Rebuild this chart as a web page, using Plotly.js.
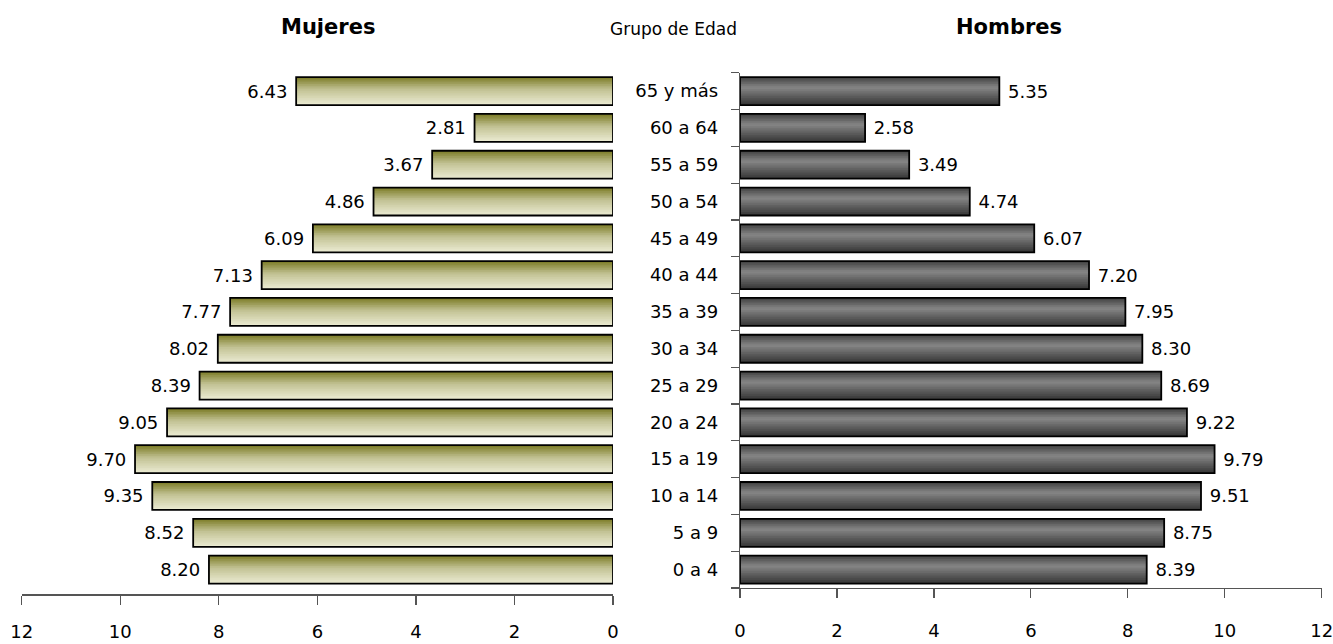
<!DOCTYPE html>
<html>
<head>
<meta charset="utf-8">
<script src="https://cdn.plot.ly/plotly-3.0.1.min.js"></script>
<style>html,body{margin:0;padding:0;background:#fff;}#chart{width:1333px;height:644px;}</style>
</head>
<body>
<div id="chart"></div>
<script>
var categories = ['0 a 4','5 a 9','10 a 14','15 a 19','20 a 24','25 a 29','30 a 34','35 a 39','40 a 44','45 a 49','50 a 54','55 a 59','60 a 64','65 y más'];
var mujeres = [8.20, 8.52, 9.35, 9.70, 9.05, 8.39, 8.02, 7.77, 7.13, 6.09, 4.86, 3.67, 2.81, 6.43];
var hombres = [8.39, 8.75, 9.51, 9.79, 9.22, 8.69, 8.30, 7.95, 7.20, 6.07, 4.74, 3.49, 2.58, 5.35];
var xTicks = [0, 2, 4, 6, 8, 10, 12];

// gradient stops (top -> bottom)
var leftStops = [[0,[122,122,36]],[0.45,[194,194,148]],[1,[236,236,212]]];
var rightStops = [[0,[64,64,64]],[0.38,[134,134,134]],[1,[52,52,52]]];

function interp(stops, t){
  for (var k=0;k<stops.length-1;k++){
    var a=stops[k], b=stops[k+1];
    if (t>=a[0] && t<=b[0]){
      var f=(t-a[0])/(b[0]-a[0]);
      var c=a[1].map(function(v,j){return Math.round(v+(b[1][j]-v)*f);});
      return 'rgb('+c.join(',')+')';
    }
  }
  var l=stops[stops.length-1][1];
  return 'rgb('+l.join(',')+')';
}

var BW = 0.76, N = 16, sw = BW/N;
var NB = '\u00a0';
var traces = [];
function addSide(vals, stops, xa, ya, side){
  // layered: each layer spans from the bar bottom up to its top edge
  for (var i=0;i<N;i++){
    var t = (i+0.5)/N;
    traces.push({
      type:'bar', orientation:'h', x: vals, y: categories, xaxis: xa, yaxis: ya,
      width: (N-i)*sw, offset: -BW/2,
      marker:{color: interp(stops,t), line:{width:0}},
      hoverinfo:'skip', showlegend:false
    });
  }
  traces.push({
    type:'bar', orientation:'h', x: vals, y: categories, xaxis: xa, yaxis: ya,
    width: BW, offset: -BW/2,
    marker:{color:'rgba(0,0,0,0)', line:{width:1.8, color:'#000'}},
    text: vals.map(function(v){return side==='left' ? v.toFixed(2)+NB : NB+v.toFixed(2);}),
    textposition:'outside', cliponaxis:false,
    textfont:{family:'DejaVu Sans', size:18, color:'#000'},
    hoverinfo:'skip', showlegend:false
  });
}
addSide(mujeres, leftStops, 'x', 'y', 'left');
addSide(hombres, rightStops, 'x2', 'y2', 'right');

var W=1333, H=644;
var yDom = [(H-588)/H, (H-72.7)/H];
var layout = {
  width:W, height:H,
  margin:{l:0, r:0, t:0, b:0},
  paper_bgcolor:'#fff', plot_bgcolor:'rgba(0,0,0,0)',
  barmode:'overlay',
  font:{family:'DejaVu Sans', size:18, color:'#000'},
  showlegend:false,
  xaxis:{domain:[21.7/W, 613/W], range:[12,0], anchor:'free', position:(H-594.3)/H,
    tickvals:xTicks, ticks:'outside', ticklen:9, tickcolor:'#555', tickwidth:1.2,
    showline:true, linecolor:'#555', linewidth:1.2, showgrid:false, zeroline:false,
    ticklabelstandoff:12, ticklabeloverflow:'allow', tickfont:{size:18}, fixedrange:true},
  yaxis:{domain:yDom, type:'category', categoryarray:categories, range:[-0.5,13.5],
    visible:false, anchor:'x', fixedrange:true},
  xaxis2:{domain:[740/W, 1321.7/W], range:[0,12], anchor:'y2',
    tickvals:xTicks, ticks:'outside', ticklen:9, tickcolor:'#555', tickwidth:1.2,
    showline:true, linecolor:'#555', linewidth:1.2, showgrid:false, zeroline:false,
    ticklabelstandoff:17, ticklabeloverflow:'allow', tickfont:{size:18}, fixedrange:true},
  yaxis2:{domain:yDom, type:'category', categoryarray:categories, range:[-0.5,13.5],
    anchor:'x2', tickson:'boundaries', ticks:'outside', ticklen:8, tickcolor:'#555', tickwidth:1.2,
    showline:true, linecolor:'#555', linewidth:1.2, showgrid:false, zeroline:false,
    ticklabelstandoff:17, tickfont:{size:18}, fixedrange:true},
  annotations:[
    {text:'<b>Mujeres</b>', x:328/W, y:1-27/H, xref:'paper', yref:'paper', xanchor:'center', yanchor:'middle', showarrow:false, font:{size:21}},
    {text:'Grupo de Edad', x:674/W, y:1-29/H, xref:'paper', yref:'paper', xanchor:'center', yanchor:'middle', showarrow:false, font:{size:17}},
    {text:'<b>Hombres</b>', x:1009/W, y:1-27/H, xref:'paper', yref:'paper', xanchor:'center', yanchor:'middle', showarrow:false, font:{size:21}}
  ]
};
Plotly.newPlot('chart', traces, layout, {displayModeBar:false, staticPlot:true});
</script>
</body>
</html>
